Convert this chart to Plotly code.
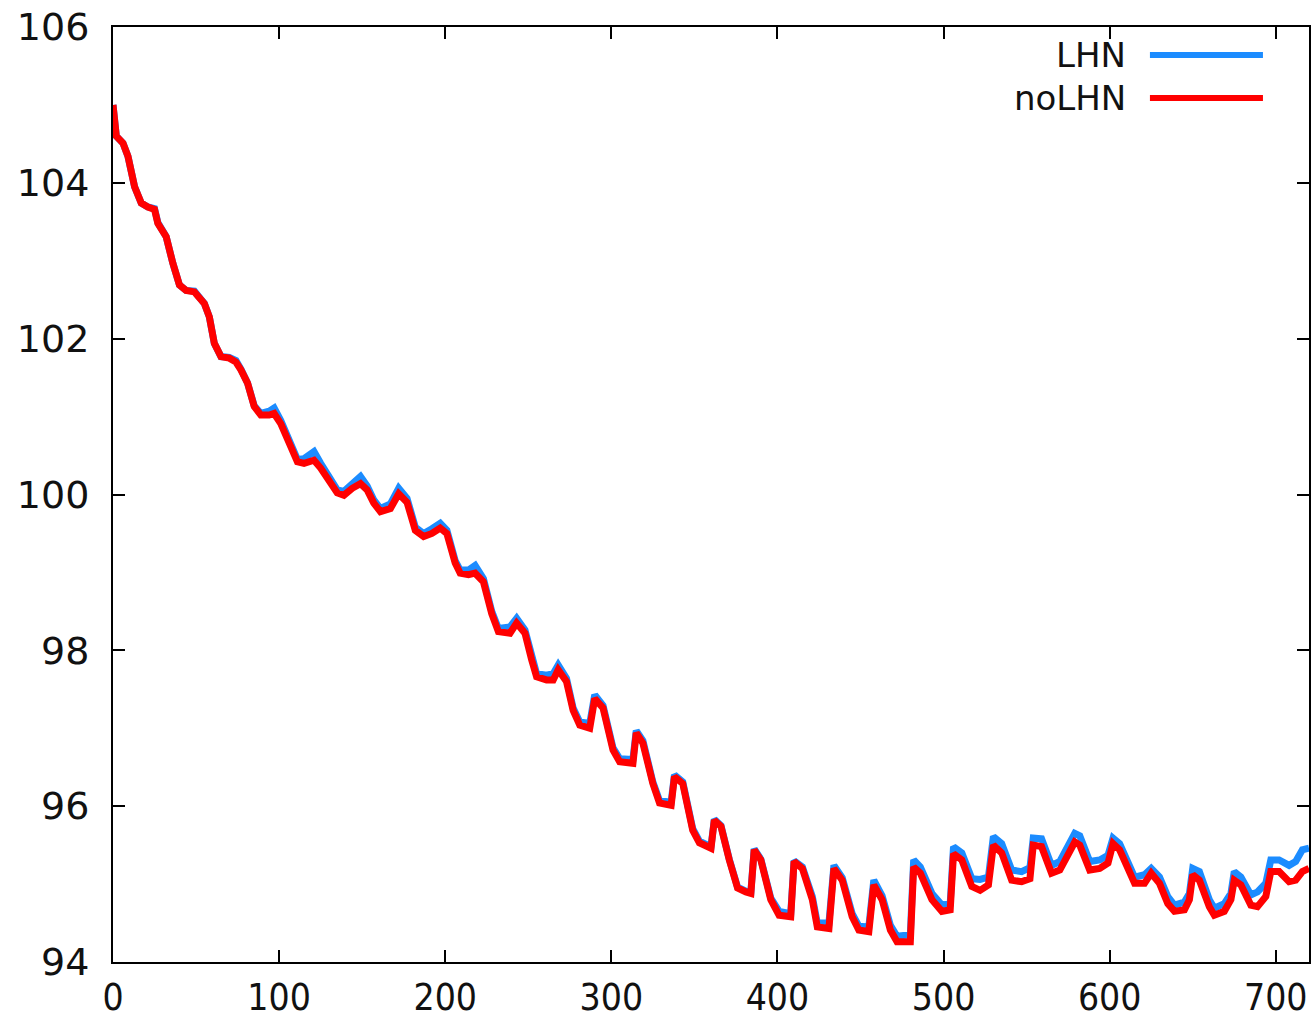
import plotly.graph_objects as go

# time (hours) breakpoints shared by both series
hours = [0, 2, 6, 9, 13, 17, 21, 25, 27, 32, 36, 40, 44, 49, 55, 58, 61, 65, 70, 74,
         77, 81, 85, 89, 94, 97, 101, 106, 111, 115, 121, 125, 130, 135, 139, 144, 149, 153, 157, 161,
         167, 172, 177, 182, 187, 192, 197, 201, 206, 209, 214, 218, 223, 228, 232, 239, 243, 248, 252, 255,
         261, 265, 268, 273, 277, 281, 287, 290, 295, 301, 305, 313, 315, 319, 325, 329, 336, 338, 343, 349,
         353, 360, 362, 366, 371, 376, 381, 384, 386, 390, 396, 401, 408, 410, 415, 421, 424, 431, 434, 439,
         445, 449, 455, 458, 463, 468, 472, 480, 482, 486, 493, 499, 504, 506, 511, 517, 522, 527, 530, 535,
         541, 547, 552, 554, 559, 565, 570, 575, 579, 582, 588, 594, 599, 602, 606, 615, 621, 625, 630, 635,
         639, 645, 648, 650, 654, 660, 663, 669, 673, 675, 679, 685, 689, 694, 697, 702, 708, 712, 716, 720]

noLHN = [105.00, 104.60, 104.51, 104.34, 103.95, 103.74, 103.69, 103.66, 103.48, 103.31, 102.97, 102.69, 102.62, 102.60, 102.45, 102.28, 101.94, 101.77, 101.75, 101.70,
         101.60, 101.43, 101.13, 101.02, 101.02, 101.04, 100.91, 100.66, 100.42, 100.40, 100.44, 100.34, 100.19, 100.02, 99.99, 100.08, 100.14, 100.06, 99.89, 99.78,
         99.82, 100.01, 99.90, 99.54, 99.46, 99.50, 99.57, 99.50, 99.12, 98.99, 98.97, 98.99, 98.88, 98.47, 98.24, 98.22, 98.35, 98.22, 97.88, 97.66,
         97.62, 97.62, 97.75, 97.60, 97.23, 97.04, 97.00, 97.38, 97.26, 96.72, 96.57, 96.55, 96.94, 96.81, 96.29, 96.04, 96.01, 96.38, 96.29, 95.69,
         95.53, 95.46, 95.82, 95.74, 95.31, 94.95, 94.90, 94.88, 95.44, 95.31, 94.80, 94.60, 94.58, 95.29, 95.20, 94.80, 94.45, 94.43, 95.20, 95.05,
         94.58, 94.41, 94.39, 94.99, 94.80, 94.41, 94.26, 94.26, 95.22, 95.14, 94.80, 94.65, 94.67, 95.39, 95.31, 94.97, 94.92, 94.99, 95.50, 95.40,
         95.05, 95.03, 95.07, 95.50, 95.48, 95.14, 95.18, 95.37, 95.54, 95.50, 95.18, 95.20, 95.27, 95.52, 95.44, 95.01, 95.01, 95.14, 95.01, 94.75,
         94.65, 94.67, 94.80, 95.12, 95.05, 94.71, 94.60, 94.65, 94.80, 95.05, 94.99, 94.73, 94.71, 94.84, 95.16, 95.16, 95.03, 95.05, 95.16, 95.20]

LHN = [105.00, 104.60, 104.51, 104.34, 103.95, 103.74, 103.69, 103.67, 103.49, 103.31, 102.97, 102.69, 102.62, 102.61, 102.45, 102.28, 101.94, 101.77, 101.76, 101.72,
       101.61, 101.43, 101.14, 101.04, 101.07, 101.11, 100.95, 100.69, 100.45, 100.46, 100.55, 100.40, 100.22, 100.06, 100.04, 100.15, 100.23, 100.11, 99.93, 99.82,
       99.88, 100.08, 99.95, 99.58, 99.50, 99.56, 99.63, 99.54, 99.15, 99.03, 99.03, 99.09, 98.92, 98.50, 98.28, 98.30, 98.41, 98.26, 97.91, 97.70,
       97.68, 97.70, 97.81, 97.64, 97.26, 97.08, 97.06, 97.43, 97.29, 96.75, 96.61, 96.60, 96.97, 96.84, 96.31, 96.07, 96.05, 96.40, 96.31, 95.71,
       95.55, 95.48, 95.83, 95.75, 95.32, 94.96, 94.91, 94.90, 95.45, 95.32, 94.82, 94.65, 94.62, 95.30, 95.22, 94.84, 94.50, 94.50, 95.24, 95.08,
       94.62, 94.46, 94.45, 95.05, 94.85, 94.47, 94.33, 94.35, 95.31, 95.22, 94.88, 94.73, 94.75, 95.48, 95.40, 95.07, 95.06, 95.09, 95.61, 95.52,
       95.18, 95.16, 95.21, 95.59, 95.58, 95.24, 95.29, 95.48, 95.65, 95.62, 95.29, 95.31, 95.37, 95.59, 95.52, 95.09, 95.12, 95.20, 95.09, 94.84,
       94.73, 94.77, 94.88, 95.20, 95.16, 94.80, 94.69, 94.75, 94.88, 95.16, 95.09, 94.86, 94.90, 95.01, 95.31, 95.31, 95.24, 95.29, 95.44, 95.46]

x_ticks = [0, 100, 200, 300, 400, 500, 600, 700]
y_ticks = [94, 96, 98, 100, 102, 104, 106]
series_names = ["LHN", "noLHN"]

BLUE = "rgb(28,140,255)"
RED = "rgb(255,0,0)"

fig = go.Figure()
fig.add_trace(go.Scatter(x=hours, y=LHN, mode="lines", name=series_names[0],
                         line=dict(color=BLUE, width=7), showlegend=False))
fig.add_trace(go.Scatter(x=hours, y=noLHN, mode="lines", name=series_names[1],
                         line=dict(color=RED, width=7), showlegend=False))

axis_common = dict(showline=True, linecolor="black", linewidth=2, mirror="ticks",
                   ticks="inside", ticklen=12, tickwidth=2, tickcolor="black",
                   showgrid=False, zeroline=False, automargin=False)

fig.update_xaxes(range=[0, 720], tickvals=x_ticks, ticktext=[str(v) for v in x_ticks],
                 tickfont=dict(family="DejaVu Sans Condensed, Liberation Sans Narrow, DejaVu Sans",
                               size=37, color="#111"),
                 ticklabelstandoff=2, **axis_common)
fig.update_yaxes(range=[94, 106], tickvals=y_ticks, ticktext=[str(v) for v in y_ticks],
                 tickfont=dict(family="DejaVu Sans", size=38, color="#111"),
                 ticklabelstandoff=14, **axis_common)

# manual legend (text left of line sample)
legend_rows = [(series_names[0], BLUE, 0.9701), (series_names[1], RED, 0.9241)]
for name, col, yp in legend_rows:
    fig.add_annotation(x=0.8490, y=yp, xref="paper", yref="paper", text=name,
                       showarrow=False, xanchor="right", yanchor="middle",
                       font=dict(family="DejaVu Sans", size=34, color="#111"))
    fig.add_shape(type="line", xref="paper", yref="paper", x0=0.8670, x1=0.9615,
                  y0=yp, y1=yp, line=dict(color=col, width=6))

fig.update_layout(width=1314, height=1022, margin=dict(l=113, r=5, t=27, b=60),
                  plot_bgcolor="white", paper_bgcolor="white", showlegend=False)

fig.write_html("out.html")
